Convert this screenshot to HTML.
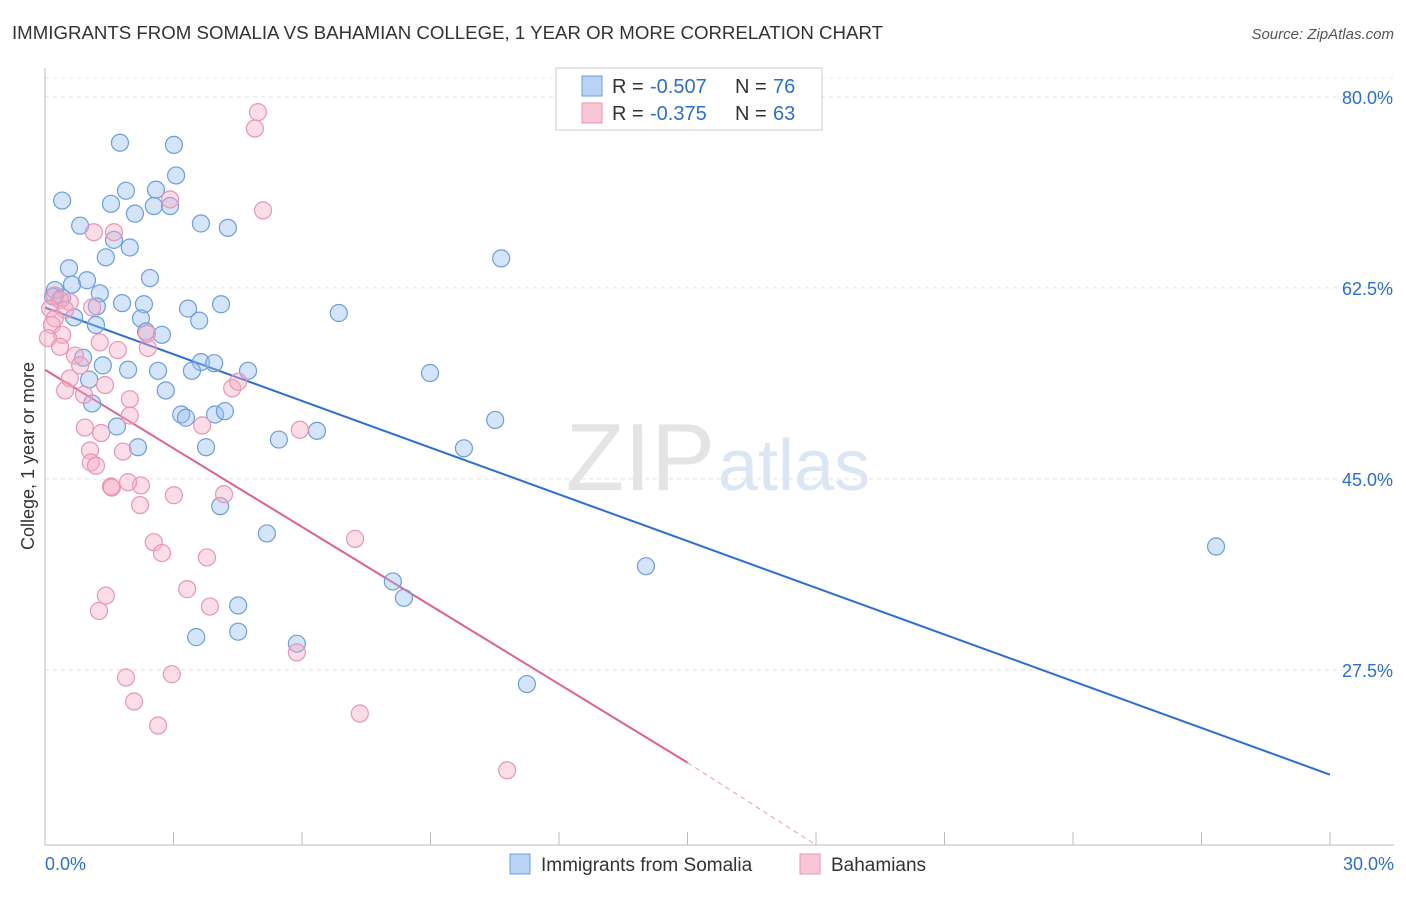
<!DOCTYPE html>
<html><head><meta charset="utf-8"><style>
body{margin:0;background:#fff;font-family:"Liberation Sans",sans-serif;}
svg text{font-family:"Liberation Sans",sans-serif;}
</style></head><body>
<svg id="chart" width="1406" height="892" xmlns="http://www.w3.org/2000/svg">
<text x="12" y="39" font-size="18" fill="#333" textLength="871" lengthAdjust="spacingAndGlyphs">IMMIGRANTS FROM SOMALIA VS BAHAMIAN COLLEGE, 1 YEAR OR MORE CORRELATION CHART</text>
<text x="1394" y="39" font-size="15" fill="#555" text-anchor="end" font-style="italic">Source: ZipAtlas.com</text>
<text transform="translate(34,456) rotate(-90)" font-size="18" fill="#333" text-anchor="middle">College, 1 year or more</text>
<text x="715" y="490" font-size="96" fill="#e4e4e4" text-anchor="end" font-family="Liberation Serif">ZIP</text>
<text x="718" y="490" font-size="72" fill="#dbe6f5">atlas</text>
<g id="grid"></g><g id="axes"></g><g id="trend"></g><g id="pts"></g>
<g>
<rect x="556" y="68" width="266" height="62" fill="#fff" stroke="#ccc"/>
<rect x="582" y="76" width="20" height="20" fill="#b8d3f4" stroke="#6a9ee0"/>
<rect x="582" y="103" width="20" height="20" fill="#f9c6d6" stroke="#ec94b1"/>
<text x="612" y="93" font-size="20" fill="#333">R = </text>
<text x="650" y="93" font-size="20" fill="#2a6fd6">-0.507</text>
<text x="735" y="93" font-size="20" fill="#333">N = </text>
<text x="773" y="93" font-size="20" fill="#2a6fd6">76</text>
<text x="612" y="120" font-size="20" fill="#333">R = </text>
<text x="650" y="120" font-size="20" fill="#2a6fd6">-0.375</text>
<text x="735" y="120" font-size="20" fill="#333">N = </text>
<text x="773" y="120" font-size="20" fill="#2a6fd6">63</text>
</g>
<g>
<rect x="510" y="854" width="20" height="20" fill="#b8d3f4" stroke="#6a9ee0"/>
<text x="541" y="871" font-size="19" fill="#333">Immigrants from Somalia</text>
<rect x="800" y="854" width="20" height="20" fill="#f9c6d6" stroke="#ec94b1"/>
<text x="831" y="871" font-size="19" fill="#333">Bahamians</text>
</g>
</svg>
<script>
const yTicks=[80,62.5,45,27.5];
const yTickLabels=["80.0%","62.5%","45.0%","27.5%"];
const xTickCount=10;
const xLabels=["0.0%","30.0%"];
const blueX=[1.75,3.01,0.40,1.89,2.59,3.06,1.54,2.54,2.92,2.10,0.82,3.64,4.27,1.61,1.98,1.42,10.65,0.56,0.98,2.45,0.23,0.63,1.28,0.19,0.40,1.21,1.80,2.31,3.34,4.11,6.86,0.68,2.24,3.60,1.19,2.36,2.73,0.89,1.35,3.64,3.95,1.94,2.64,3.43,4.74,8.99,1.03,2.82,1.10,3.18,3.29,3.97,4.20,10.51,1.68,6.35,5.46,2.17,3.76,9.78,4.09,5.18,27.34,14.03,8.12,8.38,4.51,3.53,4.51,5.88,11.25];
const blueY=[75.8,75.6,70.5,71.4,71.5,72.8,70.2,70.0,70.0,69.3,68.2,68.4,68.0,66.9,66.2,65.3,65.2,64.3,63.2,63.4,62.3,62.8,62.0,61.7,61.6,60.8,61.1,61.0,60.6,61.0,60.2,59.8,59.7,59.5,59.1,58.5,58.2,56.1,55.4,55.7,55.6,55.0,54.9,54.9,54.9,54.7,54.1,53.1,51.9,50.9,50.6,50.9,51.2,50.4,49.8,49.4,48.6,47.9,47.9,47.8,42.5,40.0,38.8,37.0,35.6,34.1,33.4,30.5,31.0,29.9,26.2];
const pinkX=[4.97,4.90,2.92,5.09,1.14,1.61,0.23,0.35,0.58,0.12,0.47,0.23,0.16,0.40,0.07,0.35,1.28,2.40,1.70,0.70,0.82,0.58,1.40,1.98,0.91,0.47,4.37,4.51,2.38,1.10,0.93,1.98,1.31,1.05,1.82,1.07,1.19,5.95,3.67,1.54,2.24,1.94,1.56,4.18,3.01,2.22,2.54,2.73,3.78,7.24,3.32,1.42,1.26,3.85,1.89,2.96,2.08,2.64,5.88,7.35,10.79];
const pinkY=[78.6,77.1,70.6,69.6,67.6,67.6,61.8,61.4,61.2,60.6,60.5,59.7,59.1,58.2,57.9,57.1,57.5,57.0,56.8,56.3,55.4,54.2,53.6,52.3,52.7,53.1,53.3,53.9,58.3,60.7,49.7,50.8,49.2,47.6,47.5,46.5,46.2,49.5,49.9,44.3,44.4,44.7,44.2,43.6,43.5,42.6,39.2,38.2,37.8,39.5,34.9,34.3,32.9,33.3,26.8,27.1,24.6,22.4,29.1,23.5,18.3];
const blueTrend=[[0,60.7],[30,17.9]];
const pinkTrend=[[0,55.0],[15.0,19.0]];
const pinkDash=[[15.0,19.0],[18.0,11.45]];
const NS="http://www.w3.org/2000/svg";
const sx=v=>45+v/30*1285;
const sy=v=>970-v*10.914;
function mk(t,a,p){const e=document.createElementNS(NS,t);for(const k in a)e.setAttribute(k,a[k]);document.getElementById(p).appendChild(e);return e;}
mk('line',{x1:45,x2:1394,y1:78,y2:78,stroke:'#e6e6e6','stroke-dasharray':'4 4'},'grid');
yTicks.forEach((t,i)=>{
 const l=mk('line',{x1:45,x2:1394,y1:sy(t),y2:sy(t),stroke:'#e0e0e0','stroke-dasharray':'4 4'},'grid');
 
 
 const tx=mk('text',{x:1393,y:sy(t)+7,'font-size':18,fill:'#2a6fd6','text-anchor':'end'},'grid');
 tx.textContent=yTickLabels[i];
 
 
});
mk('line',{x1:45,x2:45,y1:68,y2:845,stroke:'#bbb'},'axes');
mk('line',{x1:45,x2:1394,y1:845,y2:845,stroke:'#bbb'},'axes');
for(let i=0;i<=xTickCount;i++){const x=sx(i*3);
 const t=mk('line',{x1:x,x2:x,y1:832,y2:845,stroke:'#bbb'},'axes');
 
 }
const xl0=mk('text',{x:45,y:870,'font-size':18,fill:'#2a6fd6'},'axes');xl0.textContent=xLabels[0];


const xl1=mk('text',{x:1394,y:870,'font-size':18,fill:'#2a6fd6','text-anchor':'end'},'axes');xl1.textContent=xLabels[1];


blueX.forEach((x,i)=>{const c=mk('circle',{cx:sx(x),cy:sy(blueY[i]),r:8.5,fill:'rgba(150,190,240,0.4)',stroke:'#6a9ee0','stroke-width':1.2},'pts');
 
 });
pinkX.forEach((x,i)=>{const c=mk('circle',{cx:sx(x),cy:sy(pinkY[i]),r:8.5,fill:'rgba(245,170,195,0.4)',stroke:'#ec94b1','stroke-width':1.2},'pts');
 
 });
const bl=mk('line',{x1:sx(blueTrend[0][0]),y1:sy(blueTrend[0][1]),x2:sx(blueTrend[1][0]),y2:sy(blueTrend[1][1]),stroke:'#2a6fd6','stroke-width':2},'trend');


const pl=mk('line',{x1:sx(pinkTrend[0][0]),y1:sy(pinkTrend[0][1]),x2:sx(pinkTrend[1][0]),y2:sy(pinkTrend[1][1]),stroke:'#e0608f','stroke-width':2},'trend');


const pd=mk('line',{x1:sx(pinkDash[0][0]),y1:sy(pinkDash[0][1]),x2:sx(pinkDash[1][0]),y2:sy(pinkDash[1][1]),stroke:'#e899b5','stroke-width':1,'stroke-dasharray':'5 4'},'trend');


</script>
</body></html>
